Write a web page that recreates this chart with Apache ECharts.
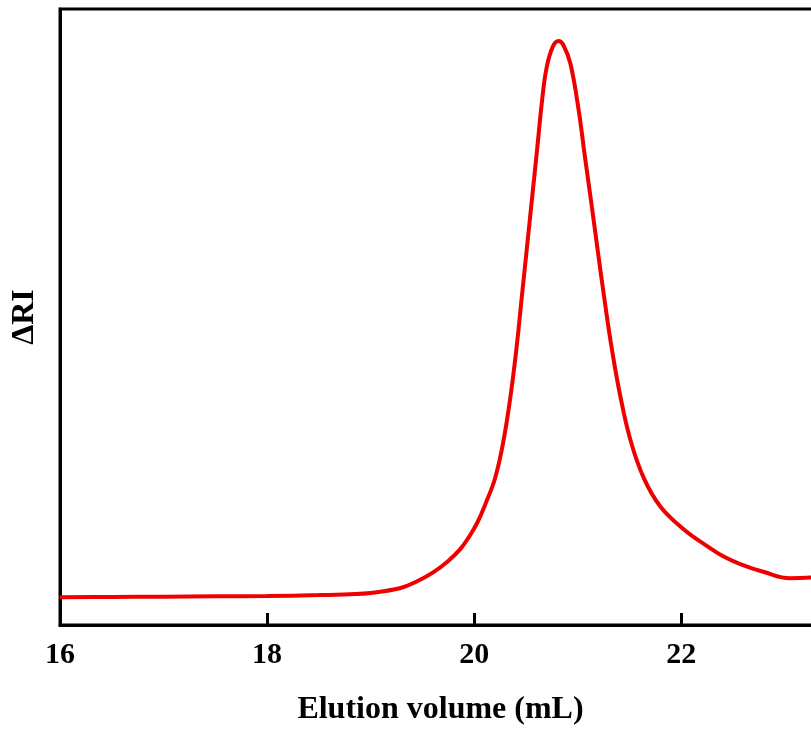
<!DOCTYPE html>
<html>
<head>
<meta charset="utf-8">
<script src="https://cdn.jsdelivr.net/npm/echarts@6/dist/echarts.min.js"></script>
<style>
  html, body { margin: 0; padding: 0; background: #fff; }
  #main { width: 811px; height: 734px; }
</style>
</head>
<body>
<div id="main"></div>
<script>
"use strict";

// elution volume (mL)
var volume = [16.0, 16.5, 17.0, 17.5, 18.0, 18.5, 18.8, 19.0, 19.29, 19.45, 19.6, 19.75, 19.87, 19.95,
  20.03, 20.11, 20.2, 20.28, 20.35, 20.41, 20.46, 20.51, 20.56, 20.61, 20.655, 20.7, 20.76, 20.815,
  20.86, 20.93, 21.01, 21.07, 21.14, 21.2, 21.27, 21.33, 21.41, 21.51, 21.64, 21.8, 22.02, 22.25,
  22.4, 22.57, 22.8, 23.05, 23.26, 23.35];
// refractive index signal (arbitrary units)
var deltaRI = [4.5, 4.55, 4.6, 4.65, 4.7, 4.85, 5.0, 5.2, 6.0, 7.1, 8.5, 10.4, 12.4, 14.3,
  16.6, 19.7, 23.7, 29.6, 37.0, 45.1, 53.2, 61.3, 69.4, 77.5, 85.0, 90.5, 93.9, 94.8,
  94.2, 91.1, 83.5, 76.0, 67.5, 60.0, 51.5, 44.8, 37.3, 30.0, 23.8, 19.2, 15.6, 12.8,
  11.2, 9.9, 8.6, 7.6, 7.7, 7.9];
var xTicks = [16, 18, 20, 22];

var seriesData = volume.map(function(v, i) {
    return [v, deltaRI[i]];
});

var serif = "'Liberation Serif', 'DejaVu Serif', serif";

var myChart = echarts.init(document.getElementById("main"));
var option = {
    backgroundColor: "#fff",
    animation: false,
    grid: {
        left: 60,
        right: -10,
        top: 9,
        bottom: 109,
        outerBoundsMode: "none",
        show: true,
        borderColor: "#000",
        borderWidth: 3
    },
    xAxis: {
        type: "value",
        min: 16,
        max: 23.35,
        interval: 2,
        name: "Elution volume (mL)",
        nameLocation: "middle",
        nameGap: 69,
        nameTextStyle: { fontFamily: serif, fontWeight: "bold", fontSize: 32, color: "#000" },
        axisLine: { show: true, lineStyle: { color: "#000", width: 3 } },
        axisTick: { show: true, inside: true, length: 12, lineStyle: { color: "#000", width: 3 } },
        axisLabel: {
            margin: 15,
            fontFamily: serif,
            fontWeight: "bold",
            fontSize: 30,
            color: "#000",
            formatter: function(v) {
                return xTicks.indexOf(v) >= 0 ? String(v) : "";
            }
        },
        splitLine: { show: false }
    },
    yAxis: {
        type: "value",
        min: 0,
        max: 100,
        name: "ΔRI",
        nameLocation: "middle",
        nameGap: 19,
        nameTextStyle: { fontFamily: serif, fontWeight: "bold", fontSize: 32, color: "#000" },
        axisLine: { show: true, lineStyle: { color: "#000", width: 3 } },
        axisTick: { show: false },
        axisLabel: { show: false },
        splitLine: { show: false }
    },
    series: [{
        type: "line",
        data: seriesData,
        smooth: 0.4,
        showSymbol: false,
        lineStyle: { color: "#ee0000", width: 4 }
    }]
};
myChart.setOption(option);
</script>
</body>
</html>
